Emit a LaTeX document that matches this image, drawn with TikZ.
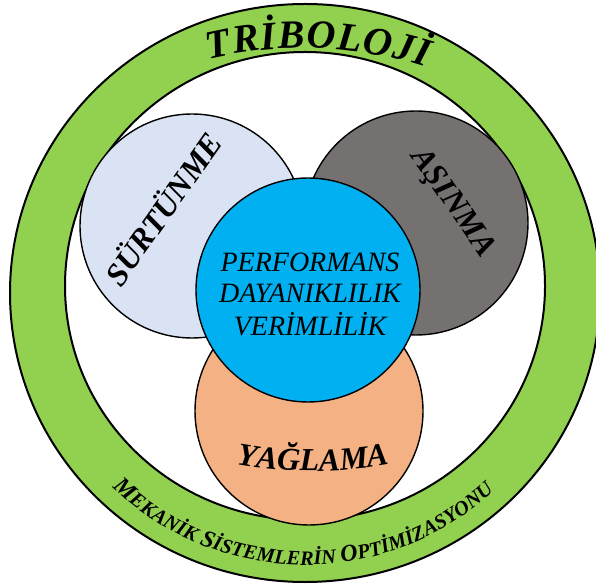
\documentclass[tikz,border=0pt]{standalone}
\usepackage{fontspec}
\setmainfont{Liberation Serif}
\usetikzlibrary{decorations.text}
\definecolor{ringgreen}{HTML}{92D050}
\definecolor{surtc}{HTML}{DAE3F3}
\definecolor{asinc}{HTML}{767171}
\definecolor{perfc}{HTML}{00B0F0}
\definecolor{yagc}{HTML}{F4B183}
\begin{document}
\begin{tikzpicture}[x=1pt,y=1pt,
  bub/.style={circle, draw=black, line width=1.4pt, inner sep=0pt},
  lbl/.style={font=\bfseries\itshape\fontsize{32}{32}\selectfont, inner sep=0pt},
  ctr/.style={font=\itshape\fontsize{28}{28}\selectfont, inner sep=0pt, anchor=base},
  ringline/.style={draw=black, line width=2pt}]
\useasboundingbox (0,0) rectangle (596,586);
% green ring
\fill[ringgreen, even odd rule] (305,293) ellipse [x radius=295, y radius=289]
  (305,300) ellipse [x radius=240, y radius=234];
\draw[ringline] (305,293) ellipse [x radius=295, y radius=289];
\draw[ringline] (305,300) ellipse [x radius=240, y radius=234];
% circles
\node[bub, fill=surtc, minimum size=224pt] (surt) at (192,360) {};
\node[bub, fill=asinc, minimum size=224pt] (asin) at (416,363) {};
\node[bub, fill=yagc, minimum size=228pt] (yag) at (309,175) {};
\node[bub, fill=perfc, minimum size=224pt] (perf) at (308,296) {};
% labels
\node[lbl, rotate=54.7] (tsurt) at (162,378) {SÜRTÜNME};
\node[lbl, rotate=-55.4] (tasin) at (452,382.5) {AŞINMA};
\node[ctr] (c1) at (310,314) {PERFORMANS};
\node[ctr] (c2) at (310,283) {DAYANIKLILIK};
\node[ctr] (c3) at (310,250) {VERİMLİLİK};
\path[decorate, decoration={text along path,
  text={|\bfseries\itshape\fontsize{32}{32}\selectfont|YAĞLAMA}, text align=center}]
  ([shift={(259:420)}]313,535) arc[start angle=259, end angle=281, radius=420];
% ring texts
\path[decorate, decoration={text along path,
  text={|\bfseries\itshape\fontsize{40}{40}\selectfont|TRİBOLOJİ}, text align={fit to path}}]
  ([shift={(103.6:400)}]303,138) arc[start angle=103.6, end angle=72.0, radius=400];
\path[decorate, decoration={text along path,
  text={|\bfseries\itshape\fontsize{24}{24}\selectfont|M|\bfseries\itshape\fontsize{20.5}{20.5}\selectfont|EKANİK |\bfseries\itshape\fontsize{24}{24}\selectfont|S|\bfseries\itshape\fontsize{20.5}{20.5}\selectfont|İSTEMLERİN |\bfseries\itshape\fontsize{24}{24}\selectfont|O|\bfseries\itshape\fontsize{20.5}{20.5}\selectfont|PTİMİZASYONU}, text align={fit to path}}]
  ([shift={(226:277)}]305,298) arc[start angle=226, end angle=313, radius=277];
\end{tikzpicture}
\end{document}
